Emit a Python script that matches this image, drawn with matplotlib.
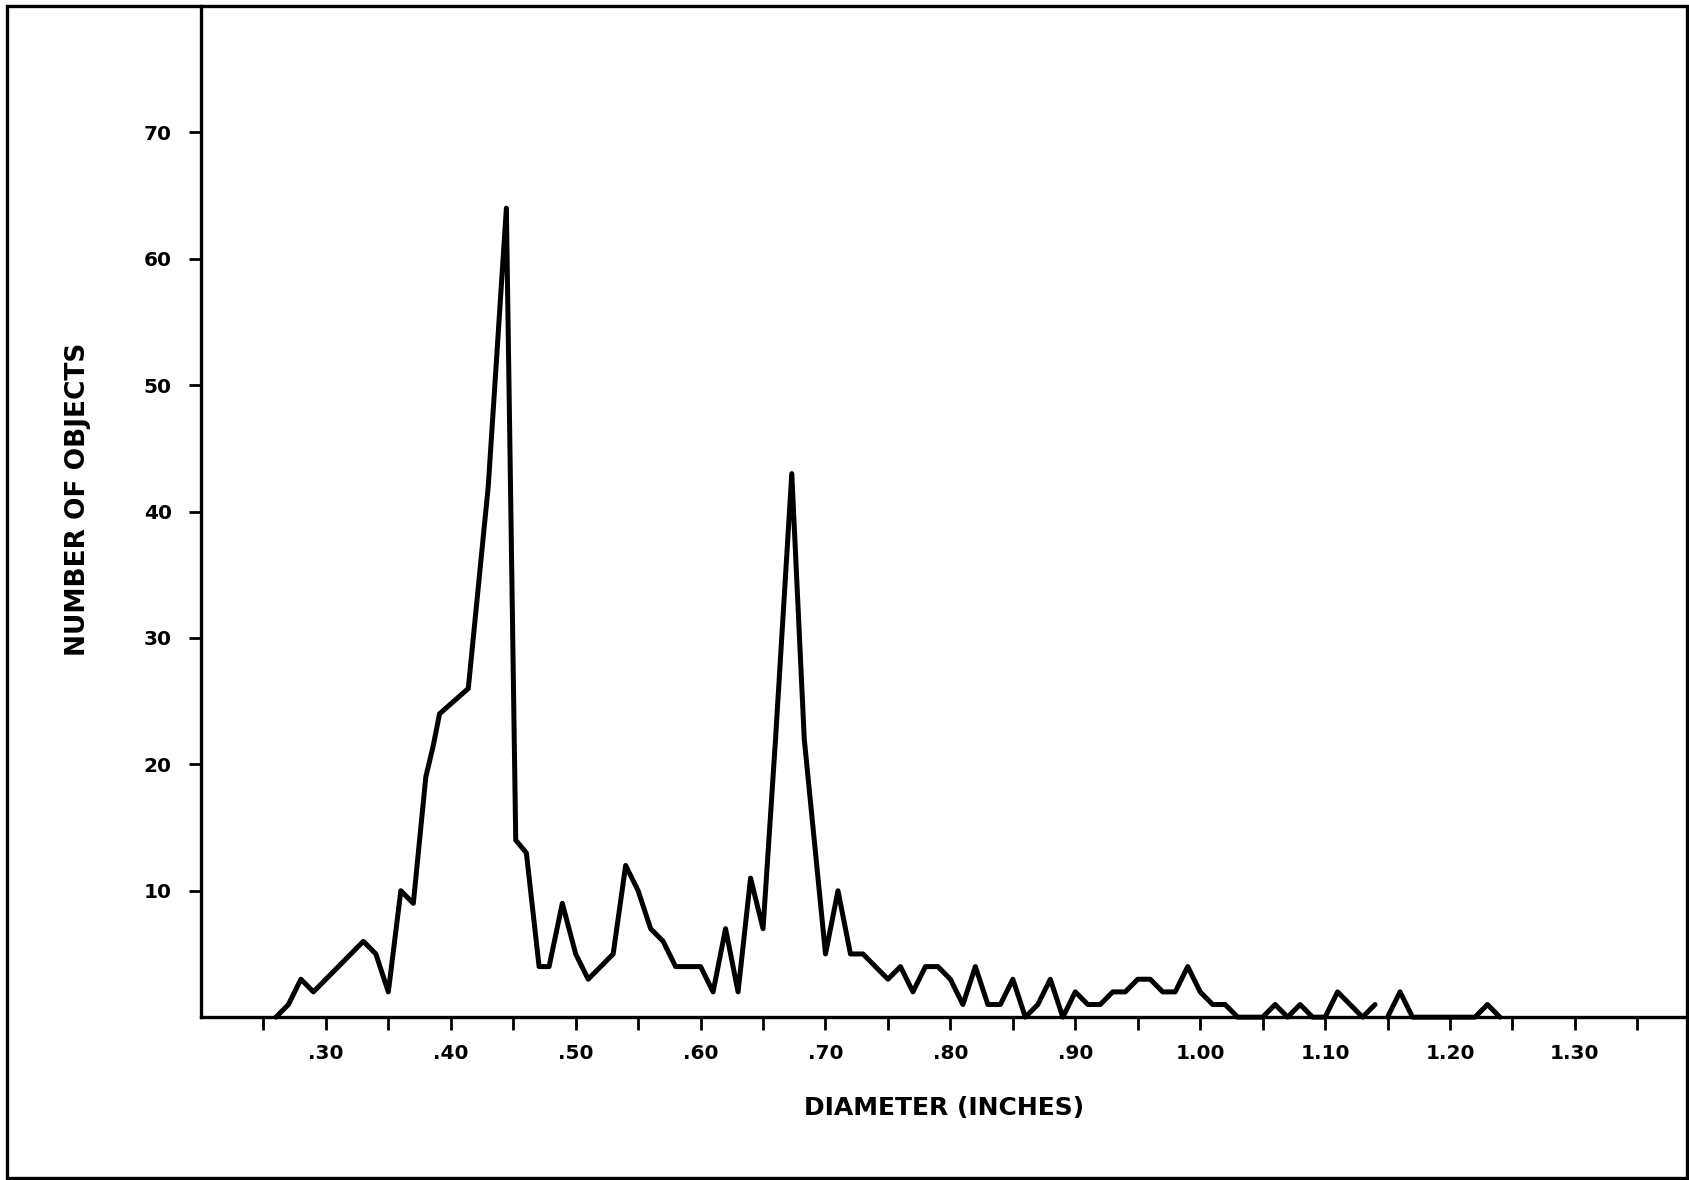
"""Size distribution of objects: number of objects vs. diameter (inches)."""

import matplotlib.pyplot as plt
import numpy as np
from matplotlib.patches import Rectangle
from matplotlib.ticker import FuncFormatter

plt.rcParams.update({
    "font.family": "DejaVu Sans",
    "font.weight": "bold",
    "axes.labelweight": "bold",
})

# data (counts per diameter step)
diameter = [
    0.26, 0.27, 0.28, 0.29, 0.30, 0.31, 0.32, 0.33, 0.34, 0.35,
    0.36, 0.37, 0.38, 0.386, 0.391, 0.414, 0.430, 0.4445, 0.452, 0.4605,
    0.4707, 0.4787, 0.4893, 0.50, 0.51, 0.52, 0.53, 0.54, 0.55, 0.56,
    0.57, 0.58, 0.59, 0.60, 0.61, 0.62, 0.63, 0.64, 0.65, 0.66,
    0.673, 0.683, 0.70, 0.71, 0.72, 0.73, 0.74, 0.75, 0.76, 0.77,
    0.78, 0.79, 0.80, 0.81, 0.82, 0.83, 0.84, 0.85, 0.86, 0.87,
    0.88, 0.89, 0.90, 0.91, 0.92, 0.93, 0.94, 0.95, 0.96, 0.97,
    0.98, 0.99, 1.00, 1.01, 1.02, 1.03, 1.04, 1.05, 1.06, 1.07,
    1.08, 1.09, 1.10, 1.11, 1.12, 1.13, 1.14, np.nan, 1.15, 1.16,
    1.17, 1.18, 1.19, 1.20, 1.21, 1.22, 1.23, 1.24,
]
count = [
    0, 1, 3, 2, 3, 4, 5, 6, 5, 2,
    10, 9, 19, 21.5, 24, 26, 42, 64, 14, 13,
    4, 4, 9, 5, 3, 4, 5, 12, 10, 7,
    6, 4, 4, 4, 2, 7, 2, 11, 7, 22,
    43, 22, 5, 10, 5, 5, 4, 3, 4, 2,
    4, 4, 3, 1, 4, 1, 1, 3, 0, 1,
    3, 0, 2, 1, 1, 2, 2, 3, 3, 2,
    2, 4, 2, 1, 1, 0, 0, 0, 1, 0,
    1, 0, 0, 2, 1, 0, 1, np.nan, 0, 2,
    0, 0, 0, 0, 0, 0, 1, 0,
]

y_ticks = [10, 20, 30, 40, 50, 60, 70]
x_ticks = [0.25, 0.30, 0.35, 0.40, 0.45, 0.50, 0.55, 0.60, 0.65, 0.70, 0.75, 0.80,
           0.85, 0.90, 0.95, 1.00, 1.05, 1.10, 1.15, 1.20, 1.25, 1.30, 1.35]


def diameter_label(v, pos):
    # only every other tick (.30, .40, ...) carries a label
    if round(v * 20) % 2:
        return ""
    s = f"{v:.2f}"
    return s[1:] if s.startswith("0") else s


fig = plt.figure(figsize=(16.89, 11.80), dpi=100)
ax = fig.add_axes([0.119, 0.138, 0.880, 0.857])

ax.plot(diameter, count, color="black", linewidth=3.6,
        solid_joinstyle="round", solid_capstyle="round", clip_on=False)

ax.set_xlim(0.20, 1.39)
ax.set_ylim(0, 80)

ax.set_xticks(x_ticks)
ax.xaxis.set_major_formatter(FuncFormatter(diameter_label))
ax.set_yticks(y_ticks)

ax.tick_params(axis="both", direction="out", length=9, width=2.0,
               labelsize=14.5, color="black")
ax.tick_params(axis="x", pad=10)
ax.tick_params(axis="y", pad=12)
for lab in ax.get_xticklabels() + ax.get_yticklabels():
    lab.set_fontweight("bold")

for side in ("top", "right"):
    ax.spines[side].set_visible(False)
for side in ("left", "bottom"):
    ax.spines[side].set_linewidth(2.4)

ax.set_xlabel("DIAMETER (INCHES)", fontsize=18, fontweight="bold", labelpad=24)
ax.set_ylabel("NUMBER OF OBJECTS", fontsize=19, fontweight="bold")
ax.yaxis.set_label_coords(-0.074, 0.512)

# outer border of the figure
fig.patches.append(Rectangle((0.004, 0.002), 0.995, 0.993, transform=fig.transFigure,
                             fill=False, edgecolor="black", linewidth=2.4))

fig.savefig("out.png", dpi=100, facecolor="white")
